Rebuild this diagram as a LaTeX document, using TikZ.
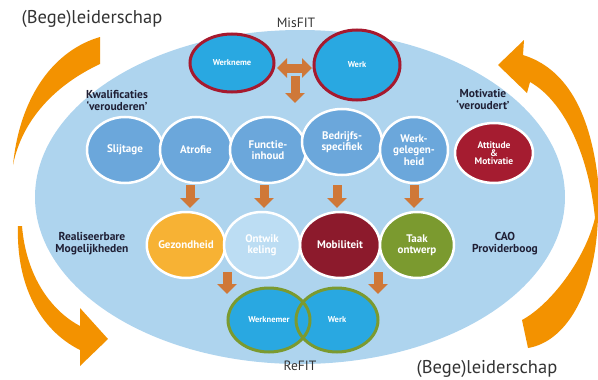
\documentclass[tikz,border=0pt]{standalone}
\usepackage{fontspec}
\setmainfont{PT Sans}
\usetikzlibrary{shapes.geometric,arrows.meta}
\definecolor{bgblue}{HTML}{AED4EE}
\definecolor{rowblue}{HTML}{6BA7DB}
\definecolor{fitblue}{HTML}{29A8E1}
\definecolor{misred}{HTML}{A6192E}
\definecolor{attred}{HTML}{A51C30}
\definecolor{mobred}{HTML}{8C1A2C}
\definecolor{gezorange}{HTML}{F7B234}
\definecolor{olive}{HTML}{7B9A2F}
\definecolor{ontblue}{HTML}{BCDDF3}
\definecolor{arrowc}{HTML}{CF7838}
\definecolor{ringorange}{HTML}{F39200}
\definecolor{labelc}{HTML}{1F1F35}
\tikzset{
  ell/.style={ellipse, inner sep=0pt, align=center, text=white,
    font=\bfseries\fontsize{11}{11.5}\selectfont},
  rowell/.style={ell, fill=rowblue, draw=white, line width=2.5pt},
  fitell/.style={ell, fill=fitblue, font=\bfseries\fontsize{8.5}{9}\selectfont},
  lbl/.style={align=center, text=labelc, font=\bfseries\fontsize{11.5}{12}\selectfont, inner sep=0pt},
  biglbl/.style={text=black!80, font=\fontsize{18.5}{19}\selectfont, inner sep=0pt},
  fitlbl/.style={text=black!80, font=\fontsize{13.5}{14}\selectfont, inner sep=0pt},
  blockarrow/.style={draw=arrowc, line width=9pt, -{Triangle[width=19pt,length=10pt]}},
  ring/.style={fill=ringorange, draw=none}
}
\begin{document}
\begin{tikzpicture}[x=1pt,y=-1pt]
\useasboundingbox (0,0) rectangle (598,380);
% background ellipse
\fill[bgblue] (300,197) ellipse [x radius=265, y radius=167];
% orange ring pieces
\fill[ring] (100,37) .. controls (55,50) and (20,95) .. (13,165) .. controls (22,120) and (55,85) .. (100,64) -- cycle;
\fill[ring] (18,226) .. controls (16,285) and (40,330) .. (80,350) -- (80,366) -- (108,339) -- (80,308) -- (80,326) .. controls (50,310) and (26,275) .. (22,226) -- cycle;
\fill[ring] (524,40) -- (498,65) -- (527,93) -- (530,82) .. controls (562,100) and (588,150) .. (595,218) -- (598,218) -- (598,180) .. controls (590,110) and (565,68) .. (523,55) -- cycle;
\fill[ring] (595,218) .. controls (585,260) and (550,305) .. (522,320) -- (528,348) .. controls (565,342) and (595,295) .. (598,218) -- cycle;
% texts
\node[biglbl] (lead1) at (92,19) {(Bege)leiderschap};
\node[biglbl] (lead2) at (487,369) {(Bege)leiderschap};
\node[fitlbl] (misfit) at (296,23) {MisFIT};
\node[fitlbl] (refit) at (300,366) {ReFIT};
\node[lbl] (kwal) at (117,100) {Kwalificaties\\‘verouderen’};
\node[lbl] (motiv) at (483,99) {Motivatie\\‘veroudert’};
\node[lbl] (real) at (92,244) {Realiseerbare\\Mogelijkheden};
\node[lbl] (cao) at (505,244) {CAO\\Providerboog};
% MisFIT ellipses
\node[fitell, draw=misred, line width=3pt, minimum width=84pt, minimum height=58pt] (mwn) at (232,63) {Werkneme};
\node[fitell, draw=misred, line width=3pt, minimum width=86pt, minimum height=70pt] (mwk) at (357,65) {Werk};
% row 1
\node[rowell, minimum width=76pt, minimum height=66pt] (slij) at (125,150) {Slijtage};
\node[rowell, minimum width=72pt, minimum height=66pt] (atro) at (196,150) {Atrofie};
\node[rowell, minimum width=76pt, minimum height=66pt] (func) at (268,150) {Functie-\\inhoud};
\node[rowell, minimum width=80pt, minimum height=66pt] (bedr) at (342,142) {Bedrijfs-\\specifiek};
\node[rowell, minimum width=68pt, minimum height=66pt] (werkg) at (414,150) {Werk-\\gelegen-\\heid};
\node[ell, fill=attred, draw=white, line width=2.5pt, minimum width=78pt, minimum height=60pt, font=\bfseries\fontsize{9.5}{9}\selectfont] (att) at (494,153) {Attitude\\[-1pt]\&\\[-1pt]Motivatie};
% row 2
\node[ell, fill=mobred, draw=white, line width=2.5pt, minimum width=80pt, minimum height=66pt] (mob) at (340,245) {Mobiliteit};
\node[ell, fill=gezorange, draw=white, line width=2.5pt, minimum width=78pt, minimum height=66pt] (gez) at (186,245) {Gezondheid};
\node[ell, fill=ontblue, draw=white, line width=2.5pt, minimum width=76pt, minimum height=66pt] (ont) at (262,245) {Ontwik\\keling};
\node[ell, fill=olive, draw=white, line width=2.5pt, minimum width=74pt, minimum height=66pt] (taak) at (417,245) {Taak\\ontwerp};
% row 3 (ReFIT)
\node[fitell, minimum width=82pt, minimum height=64pt] (rwn) at (269,320) {Werknemer};
\node[fitell, minimum width=82pt, minimum height=64pt] (rwk) at (337,320) {Werk};
\draw[olive, line width=3pt] (rwn.center) ellipse [x radius=41, y radius=32];
\draw[olive, line width=3pt] (rwk.center) ellipse [x radius=41, y radius=32];
% block arrows
\coordinate (da) at (277,68); \coordinate (db) at (312,68);
\draw[blockarrow, {Triangle[width=19pt,length=10pt]}-{Triangle[width=19pt,length=10pt]}] (da) -- (db);
\coordinate (dd1) at (295,76); \coordinate (dd2) at (295,103);
\draw[blockarrow] (dd1) -- (dd2);
\coordinate (a1) at (190,185); \coordinate (b1) at (190,208);
\coordinate (a2) at (264,185); \coordinate (b2) at (264,208);
\coordinate (a3) at (337,185); \coordinate (b3) at (337,208);
\coordinate (a4) at (414,185); \coordinate (b4) at (414,208);
\draw[blockarrow] (a1) -- (b1);
\draw[blockarrow] (a2) -- (b2);
\draw[blockarrow] (a3) -- (b3);
\draw[blockarrow] (a4) -- (b4);
\coordinate (a5) at (227,272); \coordinate (b5) at (227,294);
\coordinate (a6) at (378,272); \coordinate (b6) at (378,294);
\draw[blockarrow] (a5) -- (b5);
\draw[blockarrow] (a6) -- (b6);
\end{tikzpicture}
\end{document}
